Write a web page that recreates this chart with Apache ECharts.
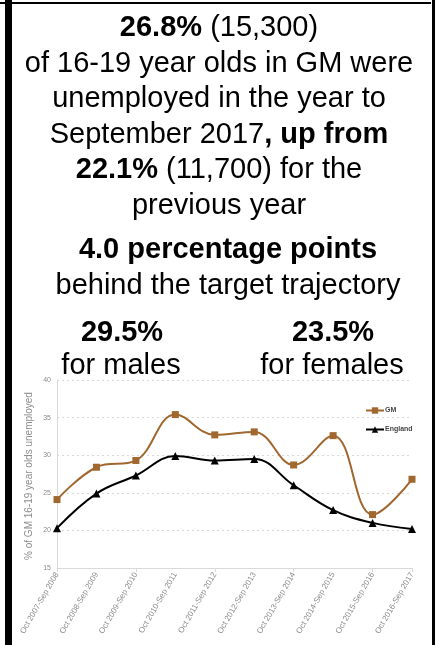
<!DOCTYPE html>
<html>
<head>
<meta charset="utf-8">
<script src="https://cdn.jsdelivr.net/npm/echarts@6/dist/echarts.min.js"></script>
<style>
  html, body { margin: 0; padding: 0; background: #fff; }
  #chart { width: 436px; height: 645px; }
</style>
</head>
<body>
<div id="chart"></div>
<script>
// Rolling 12-month periods
const periods = [
  'Oct 2007-Sep 2008', 'Oct 2008-Sep 2009', 'Oct 2009-Sep 2010', 'Oct 2010-Sep 2011',
  'Oct 2011-Sep 2012', 'Oct 2012-Sep 2013', 'Oct 2013-Sep 2014', 'Oct 2014-Sep 2015',
  'Oct 2015-Sep 2016', 'Oct 2016-Sep 2017'
];
// % of 16-19 year olds unemployed
const gmValues = [24.1, 28.4, 29.3, 35.4, 32.7, 33.1, 28.7, 32.6, 22.1, 26.8];
const englandValues = [20.3, 24.9, 27.3, 29.9, 29.3, 29.5, 26.0, 22.7, 21.0, 20.2];
const yTicks = [15, 20, 25, 30, 35, 40];

const BROWN = '#a0672f';
const FONT = '"Liberation Sans", Arial, sans-serif';

const chart = echarts.init(document.getElementById('chart'), null, { renderer: 'canvas' });

function richLine(y, text, x) {
  return {
    type: 'text', x: x, y: y,
    style: {
      text: text, fill: '#000', font: '29px ' + FONT,
      align: 'center', verticalAlign: 'bottom',
      rich: {
        b: { font: 'bold 29px ' + FONT, fill: '#000' },
        n: { font: '29px ' + FONT, fill: '#000' }
      }
    }
  };
}

const cx = 219;
const cx2 = 228;
const graphics = [
  // frame
  { type: 'rect', shape: { x: 5, y: 0, width: 7, height: 645 }, style: { fill: '#000' } },
  { type: 'rect', shape: { x: 0, y: 2, width: 431, height: 2 }, style: { fill: '#000' } },
  { type: 'rect', shape: { x: 432, y: 0, width: 3, height: 645 }, style: { fill: '#000' } },
  // headline text
  richLine(42, '{b|26.8%}{n| (15,300)}', cx),
  richLine(78, '{n|of 16-19 year olds in GM were}', cx),
  richLine(113, '{n|unemployed in the year to}', cx),
  richLine(149, '{n|September 2017}{b|, up from}', cx),
  richLine(184, '{b|22.1%}{n| (11,700) for the}', cx),
  richLine(220, '{n|previous year}', cx),
  richLine(264, '{b|4.0 percentage points}', cx2),
  richLine(300, '{n|behind the target trajectory}', cx2),
  richLine(347, '{b|29.5%}', 122),
  richLine(380, '{n|for males}', 121),
  richLine(347, '{b|23.5%}', 333),
  richLine(380, '{n|for females}', 332),
  // y-axis title
  {
    type: 'text', x: 29, y: 476, rotation: Math.PI / 2,
    style: {
      text: '% of GM 16-19 year olds unemployed', fill: '#8c8c8c',
      font: '10px ' + FONT, align: 'center', verticalAlign: 'middle'
    }
  }
];

chart.setOption({
  animation: false,
  backgroundColor: '#fff',
  textStyle: { fontFamily: FONT },
  grid: { left: 57, right: 24, top: 380, bottom: 77, containLabel: false },
  legend: {
    orient: 'vertical', left: 360, top: 402, itemGap: 12,
    itemWidth: 18, itemHeight: 8,
    textStyle: { fontSize: 7, color: '#444', fontWeight: 'bold', padding: [0, 0, 0, -4] },
    data: ['GM', 'England']
  },
  xAxis: {
    type: 'category', data: periods, boundaryGap: false,
    axisLine: { lineStyle: { color: '#d9d9d9' } },
    axisTick: { show: true, interval: 1, length: 4, lineStyle: { color: '#d9d9d9' } },
    axisLabel: { interval: 0, rotate: 60, fontSize: 8, color: '#8c8c8c', margin: 5 },
    splitLine: { show: false }
  },
  yAxis: {
    type: 'value', min: yTicks[0], max: yTicks[yTicks.length - 1], interval: 5,
    axisLine: { show: true, lineStyle: { color: '#d9d9d9' } },
    axisTick: { show: false },
    axisLabel: { fontSize: 7, color: '#8c8c8c', margin: 6 },
    splitLine: { lineStyle: { color: '#d9d9d9', type: [2, 3], width: 1 } }
  },
  series: [
    {
      name: 'GM', type: 'line', data: gmValues, smooth: 0.4,
      symbol: 'rect', symbolSize: 7,
      lineStyle: { color: BROWN, width: 2 },
      itemStyle: { color: BROWN }
    },
    {
      name: 'England', type: 'line', data: englandValues, smooth: 0.4,
      symbol: 'triangle', symbolSize: 8,
      lineStyle: { color: '#000', width: 2 },
      itemStyle: { color: '#000' }
    }
  ],
  graphic: graphics
});
</script>
</body>
</html>
